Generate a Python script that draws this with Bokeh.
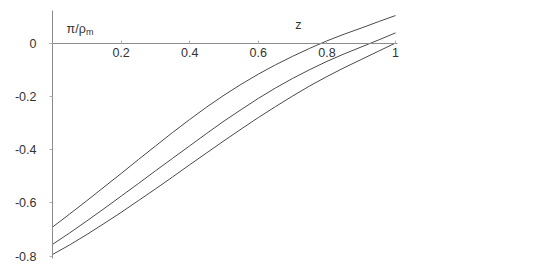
from bokeh.plotting import figure
from bokeh.models import Range1d, FixedTicker, Label
from bokeh.embed import file_html
from bokeh.resources import INLINE

# data
z = [0.0, 0.05, 0.1, 0.15, 0.2, 0.25, 0.3, 0.35, 0.4, 0.45, 0.5,
     0.55, 0.6, 0.65, 0.7, 0.75, 0.8, 0.85, 0.9, 0.95, 1.0]
curve_a = [-0.691, -0.642, -0.592, -0.541, -0.490, -0.438, -0.387, -0.336, -0.287, -0.240, -0.196,
           -0.155, -0.117, -0.082, -0.050, -0.020, 0.008, 0.033, 0.056, 0.080, 0.103]
curve_b = [-0.756, -0.713, -0.668, -0.622, -0.575, -0.528, -0.480, -0.433, -0.386, -0.339, -0.293,
           -0.250, -0.208, -0.169, -0.133, -0.100, -0.069, -0.041, -0.015, 0.011, 0.038]
curve_c = [-0.794, -0.758, -0.719, -0.678, -0.636, -0.592, -0.548, -0.503, -0.457, -0.412, -0.367,
           -0.323, -0.280, -0.239, -0.199, -0.161, -0.126, -0.093, -0.062, -0.031, 0.000]

x_ticks = [0.2, 0.4, 0.6, 0.8, 1.0]
x_tick_labels = ["0.2", "0.4", "0.6", "0.8", "1"]
y_ticks = [0.0, -0.2, -0.4, -0.6, -0.8]
y_tick_labels = ["0", "-0.2", "-0.4", "-0.6", "-0.8"]

FONT = "Liberation Sans"
W, H = 556, 266
x0_px, px_per_x = 52.0, 343.0
y0_px, px_per_y = 42.5, 266.4

xs = -x0_px / px_per_x
ye = y0_px / px_per_y
p = figure(width=W, height=H, output_backend="svg", toolbar_location=None,
           x_range=Range1d(xs, xs + W / px_per_x),
           y_range=Range1d(ye - H / px_per_y, ye),
           min_border=0, min_border_left=0, min_border_right=0,
           min_border_top=0, min_border_bottom=0)
p.outline_line_color = None
p.grid.visible = False
p.background_fill_color = "white"
p.border_fill_color = "white"

for ys in (curve_a, curve_b, curve_c):
    p.line(z, ys, line_color="#4a4a4a", line_width=1)

ax = p.xaxis[0]
ax.fixed_location = 0
ax.ticker = FixedTicker(ticks=x_ticks)
ax.major_label_overrides = {t: s for t, s in zip(x_ticks, x_tick_labels)}
ax.bounds = (0, 1.005)
ax.axis_line_color = "#8c8c8c"
ax.major_tick_line_color = "#b0b0b0"
ax.major_tick_in = 3
ax.major_tick_out = 0
ax.minor_tick_line_color = None
ax.major_label_standoff = 5
ax.major_label_text_font = FONT
ax.major_label_text_font_size = "12.5px"
ax.major_label_text_color = "#333333"

ay = p.yaxis[0]
ay.fixed_location = 0
ay.ticker = FixedTicker(ticks=y_ticks)
ay.major_label_overrides = {t: s for t, s in zip(y_ticks, y_tick_labels)}
ay.bounds = (-0.81, 0.122)
ay.axis_line_color = "#8c8c8c"
ay.major_tick_line_color = "#b0b0b0"
ay.major_tick_in = 0
ay.major_tick_out = 3
ay.minor_tick_line_color = None
ay.major_label_standoff = 13
ay.major_label_text_font = FONT
ay.major_label_text_font_size = "12.5px"
ay.major_label_text_color = "#333333"

p.add_layout(Label(x=0.041, y=0.0507, text="π/ρ", text_font=FONT, text_font_size="12.5px",
                   text_color="#333333", text_baseline="alphabetic"))
p.add_layout(Label(x=0.098, y=0.040, text="m", text_font=FONT, text_font_size="9px",
                   text_color="#333333", text_baseline="alphabetic"))
p.add_layout(Label(x=0.717, y=0.066, text="z", text_font=FONT, text_font_size="12.5px",
                   text_color="#333333", text_align="center", text_baseline="middle"))

open("out.html", "w").write(file_html(p, INLINE))
